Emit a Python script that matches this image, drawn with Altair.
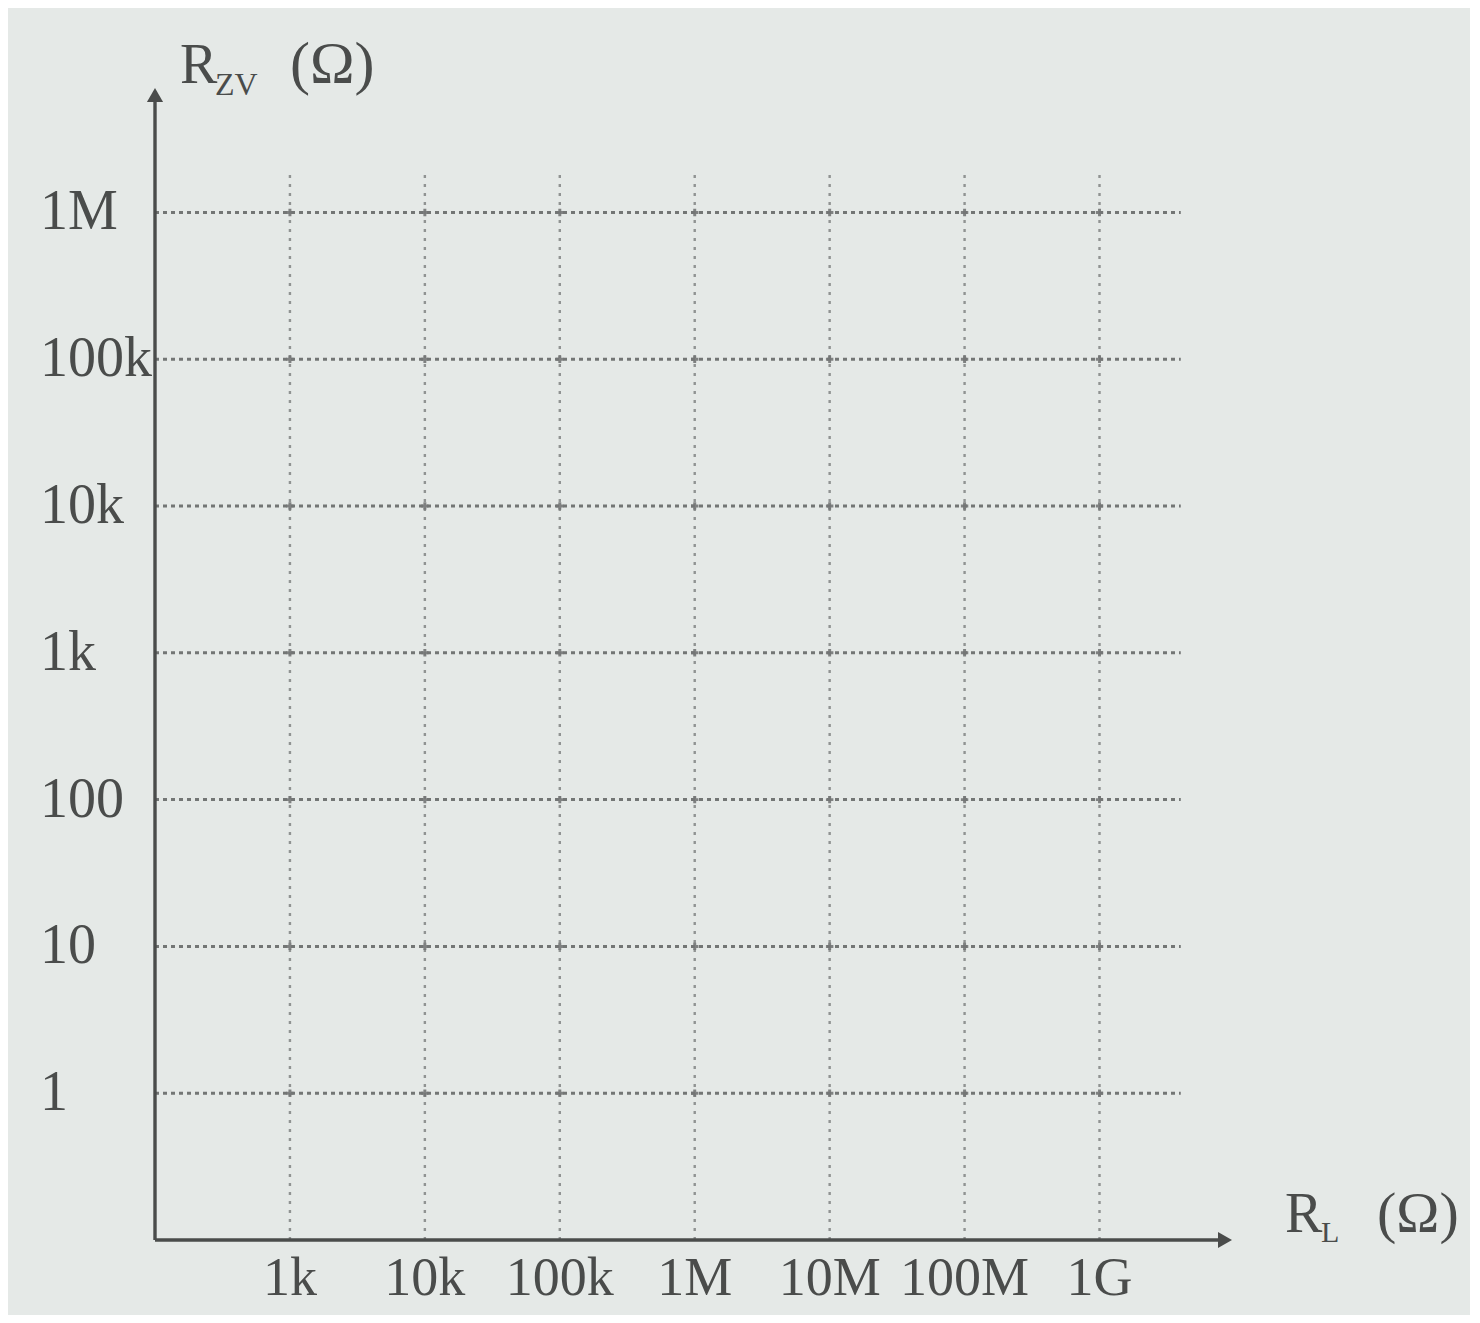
import altair as alt
import pandas as pd
import itertools

# ---- data ----
x_ticks = [1e3, 1e4, 1e5, 1e6, 1e7, 1e8, 1e9]
x_labels = ["1k", "10k", "100k", "1M", "10M", "100M", "1G"]
y_ticks = [1e6, 1e5, 1e4, 1e3, 1e2, 10, 1]
y_labels = ["1M", "100k", "10k", "1k", "100", "10", "1"]
x_domain = [100, 10 ** 9.93]
y_domain = [0.1, 10 ** 6.8]
grid_x_end = 4e9
grid_y_end = 1.8e6

BG = "#e5e9e7"
TXT = "#4a4c4b"
GRID = "#737675"
AX = "#4a4c4b"
FONT = "Liberation Serif"

xs = alt.Scale(type="log", domain=x_domain)
ys = alt.Scale(type="log", domain=y_domain)

hgrid = pd.DataFrame({"y": y_ticks, "x0": [x_domain[0]] * len(y_ticks), "x1": [grid_x_end] * len(y_ticks)})
vgrid = pd.DataFrame({"x": x_ticks, "y0": [y_domain[0]] * len(x_ticks), "y1": [grid_y_end] * len(x_ticks)})
inter = pd.DataFrame(list(itertools.product(x_ticks, y_ticks)), columns=["x", "y"])
xlab = pd.DataFrame({"v": x_ticks, "label": x_labels})
ylab = pd.DataFrame({"v": y_ticks, "label": y_labels})
xaxis = pd.DataFrame({"x0": [x_domain[0]], "x1": [x_domain[1]], "y": [y_domain[0]]})
yaxis = pd.DataFrame({"x": [x_domain[0]], "y0": [y_domain[0]], "y1": [y_domain[1]]})
arrows = pd.DataFrame({"x": [x_domain[0], x_domain[1]], "y": [y_domain[1], y_domain[0]],
                       "shape": ["triangle-up", "triangle-right"]})

h = alt.Chart(hgrid).mark_rule(strokeDash=[4, 4], strokeWidth=3, color=GRID).encode(
    x=alt.X("x0:Q", scale=xs, axis=None), x2="x1:Q", y=alt.Y("y:Q", scale=ys, axis=None))
v = alt.Chart(vgrid).mark_rule(strokeDash=[3, 6], strokeWidth=2.4, color=GRID, opacity=0.75).encode(
    x=alt.X("x:Q", scale=xs, axis=None), y=alt.Y("y0:Q", scale=ys, axis=None), y2="y1:Q")
pts = alt.Chart(inter).mark_point(shape="cross", filled=True, size=55, color=GRID, opacity=0.9).encode(
    x=alt.X("x:Q", scale=xs, axis=None), y=alt.Y("y:Q", scale=ys, axis=None))
xa = alt.Chart(xaxis).mark_rule(strokeWidth=3.4, color=AX).encode(
    x=alt.X("x0:Q", scale=xs, axis=None), x2="x1:Q", y=alt.Y("y:Q", scale=ys, axis=None))
ya = alt.Chart(yaxis).mark_rule(strokeWidth=3.4, color=AX).encode(
    x=alt.X("x:Q", scale=xs, axis=None), y=alt.Y("y0:Q", scale=ys, axis=None), y2="y1:Q")
arr = alt.Chart(arrows).mark_point(filled=True, size=260, color=AX, opacity=1).encode(
    x=alt.X("x:Q", scale=xs, axis=None), y=alt.Y("y:Q", scale=ys, axis=None),
    shape=alt.Shape("shape:N", scale=None))

yl = alt.Chart(ylab).mark_text(align="left", baseline="middle", font=FONT, fontSize=56, color=TXT).encode(
    x=alt.value(-115), y=alt.Y("v:Q", scale=ys, axis=None), text="label:N")
xl = alt.Chart(xlab).mark_text(align="center", baseline="middle", font=FONT, fontSize=54, color=TXT).encode(
    x=alt.X("v:Q", scale=xs, axis=None), y=alt.value(1184), text="label:N")

one = pd.DataFrame({"a": [0]})


def txt(s, x, y, size):
    return alt.Chart(one).mark_text(text=s, align="left", baseline="alphabetic", font=FONT,
                                    fontSize=size, color=TXT).encode(x=alt.value(x), y=alt.value(y))


titles = [
    txt("R", 25, -12, 56), txt("ZV", 60, 0, 32), txt("(Ω)", 135, -12, 60),
    txt("R", 1130, 1137, 56), txt("L", 1166, 1147, 30), txt("(Ω)", 1222, 1137, 58),
]

chart = alt.layer(h, v, pts, xa, ya, arr, yl, xl, *titles).properties(
    width=1070, height=1145,
    autosize=alt.AutoSizeParams(type="none"),
    padding={"left": 147, "top": 87, "right": 245, "bottom": 75},
).configure(background=BG).configure_view(stroke=None)

chart.save("out.html", embed_options={"renderer": "svg", "actions": False})
